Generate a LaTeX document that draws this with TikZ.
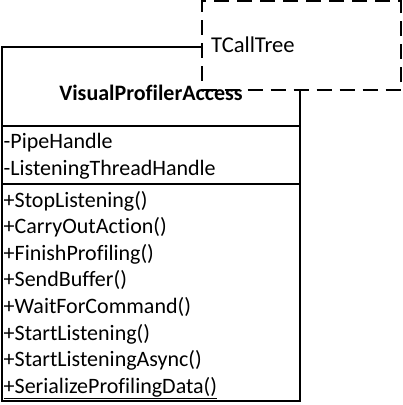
\documentclass[tikz,border=0pt]{standalone}
\usepackage{fontspec}
\setmainfont{Carlito}[Ligatures={NoCommon}]
\begin{document}
\begin{tikzpicture}[x=1pt,y=-1pt,
  frame/.style={draw=black,line width=2pt,fill=white,inner sep=0pt,outer sep=0pt},
  dashframe/.style={draw=black,line width=2pt,fill=white,inner sep=0pt,outer sep=0pt,dash pattern=on 15pt off 8pt},
  member/.style={anchor=base west,inner sep=0pt,font=\fontsize{22}{24}\selectfont},
  titletext/.style={anchor=base,inner sep=0pt,font=\fontsize{22}{24}\selectfont\bfseries},
  sep/.style={draw=black,line width=2pt}]
\useasboundingbox (0,0) rectangle (403,405);
% main class box
\node[frame,minimum width=298pt,minimum height=354pt,anchor=north west] (cls) at (2,47) {};
\coordinate (s1l) at (2,126); \coordinate (s1r) at (300,126);
\coordinate (s2l) at (2,184); \coordinate (s2r) at (300,184);
\draw[sep] (s1l) -- (s1r);
\draw[sep] (s2l) -- (s2r);
% dashed box
\node[dashframe,minimum width=199pt,minimum height=89pt,anchor=north west] (tree) at (201.5,1) {};
\node[member,font=\fontsize{22.6}{24}\selectfont] (treelabel) at (211,52.5) {TCallTree};
% title
\node[titletext] (title) at (151,100) {VisualProfilerAccess};
% attributes
\node[member] (a1) at (3.5,148) {-PipeHandle};
\node[member] (a2) at (3.5,175) {-ListeningThreadHandle};
% methods
\node[member] (m1) at (3.5,207) {+StopListening()};
\node[member] (m2) at (3.5,233.6) {+CarryOutAction()};
\node[member] (m3) at (3.5,260.2) {+FinishProfiling()};
\node[member] (m4) at (3.5,286.8) {+SendBuffer()};
\node[member] (m5) at (3.5,313.4) {+WaitForCommand()};
\node[member] (m6) at (3.5,340) {+StartListening()};
\node[member] (m7) at (3.5,366.6) {+StartListeningAsync()};
\node[member] (m8) at (3.5,393.2) {\underline{+SerializeProfilingData()}};
\end{tikzpicture}
\end{document}
